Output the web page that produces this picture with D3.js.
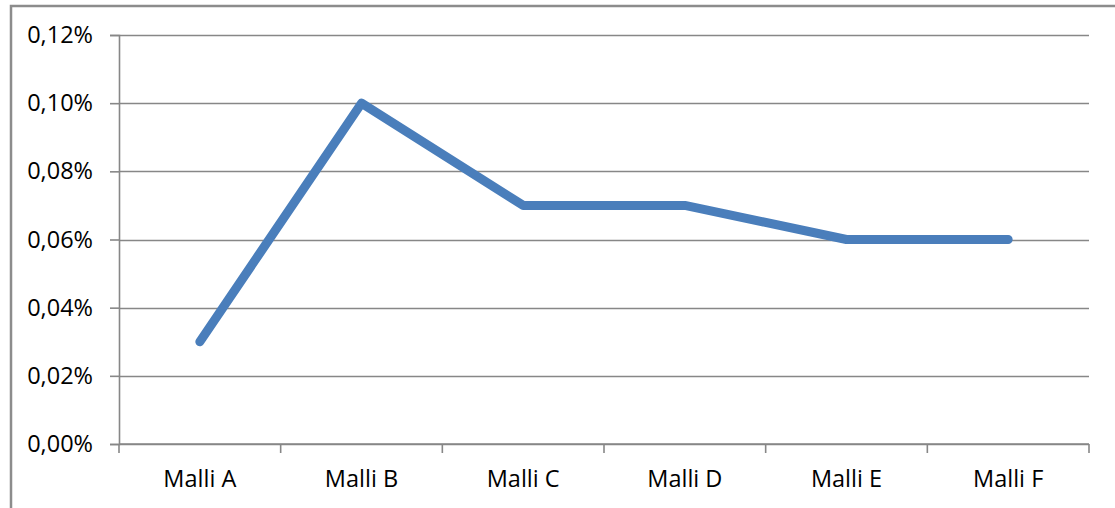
<!DOCTYPE html>
<html>
<head>
<meta charset="utf-8">
<script src="https://cdn.jsdelivr.net/npm/d3@7"></script>
<style>
  html, body { margin: 0; padding: 0; background: #fff; }
  svg { display: block; }
  text { font-family: "Open Sans", "Liberation Sans", sans-serif; fill: #000; }
</style>
</head>
<body>
<svg id="chart" width="1115" height="508"></svg>
<script>
// Chart data
const categories = ["Malli A", "Malli B", "Malli C", "Malli D", "Malli E", "Malli F"];
const values = [0.0003, 0.0010, 0.0007, 0.0007, 0.0006, 0.0006];
const yTicks = [0, 0.0002, 0.0004, 0.0006, 0.0008, 0.0010, 0.0012];

const svg = d3.select("#chart");
const W = 1115, H = 508;
const plot = { left: 119, right: 1089, top: 35, bottom: 444 };
const labelSize = 23.5;

// Outer chart frame
svg.append("rect")
  .attr("x", 11).attr("y", 6)
  .attr("width", W + 20).attr("height", H + 20)
  .attr("fill", "none")
  .attr("stroke", "#8c8c8c")
  .attr("stroke-width", 2.5);

const x = d3.scaleBand().domain(categories).range([plot.left, plot.right]).padding(0);
const y = d3.scaleLinear().domain([0, 0.0012]).range([plot.bottom, plot.top]);

const fmt = v => (v * 100).toFixed(2).replace(".", ",") + "%";

// Horizontal gridlines
svg.append("g")
  .selectAll("line")
  .data(yTicks)
  .join("line")
  .attr("x1", plot.left).attr("x2", plot.right)
  .attr("y1", d => Math.round(y(d)) + 0.5).attr("y2", d => Math.round(y(d)) + 0.5)
  .attr("stroke", "#878787")
  .attr("stroke-width", 1.6);

// Y axis
const yAxis = svg.append("g")
  .attr("transform", `translate(${plot.left},0)`)
  .call(d3.axisLeft(y).tickValues(yTicks).tickFormat(fmt).tickSize(9).tickPadding(17));
yAxis.select(".domain").attr("stroke", "#878787").attr("stroke-width", 1.6);
yAxis.selectAll(".tick line").attr("stroke", "#878787").attr("stroke-width", 1.6);
yAxis.selectAll(".tick text")
  .attr("font-size", labelSize)
  .attr("font-family", "'Open Sans', sans-serif")
  .attr("fill", "#000");

// X axis with boundary tick marks between categories
const xAxisG = svg.append("g").attr("transform", `translate(0,${plot.bottom})`);
xAxisG.append("line")
  .attr("x1", plot.left).attr("x2", plot.right)
  .attr("y1", 0).attr("y2", 0)
  .attr("stroke", "#878787").attr("stroke-width", 1.6);
const bounds = categories.map(c => x(c)).concat([plot.right]);
xAxisG.selectAll("line.tk")
  .data(bounds)
  .join("line")
  .attr("class", "tk")
  .attr("x1", d => d).attr("x2", d => d)
  .attr("y1", 0).attr("y2", 9)
  .attr("stroke", "#878787").attr("stroke-width", 1.6);
xAxisG.selectAll("text")
  .data(categories)
  .join("text")
  .attr("x", d => x(d) + x.bandwidth() / 2)
  .attr("y", 43)
  .attr("text-anchor", "middle")
  .attr("font-size", labelSize)
  .text(d => d);

// Series line
const line = d3.line()
  .x((d, i) => x(categories[i]) + x.bandwidth() / 2)
  .y(d => y(d));
svg.append("path")
  .datum(values)
  .attr("d", line)
  .attr("fill", "none")
  .attr("stroke", "#4a7ebb")
  .attr("stroke-width", 9)
  .attr("stroke-linecap", "round")
  .attr("stroke-linejoin", "round");
</script>
</body>
</html>
